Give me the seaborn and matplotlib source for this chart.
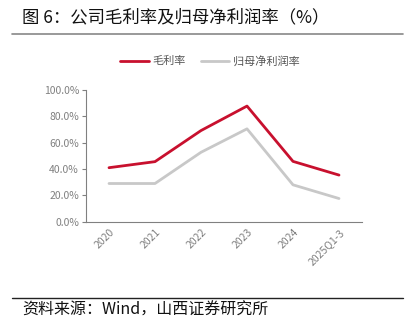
import matplotlib
matplotlib.use("Agg")
import matplotlib.pyplot as plt
import matplotlib.transforms as mtransforms
from matplotlib.lines import Line2D
import seaborn as sns
import pandas as pd

categories = ["2020", "2021", "2022", "2023", "2024", "2025Q1-3"]
gross_margin = [41.0, 45.6, 69.2, 87.8, 45.8, 35.4]
net_margin = [29.0, 29.0, 52.7, 70.5, 28.0, 17.6]
series_names = ["毛利率", "归母净利润率"]
y_ticks = [0, 20, 40, 60, 80, 100]

sns.set_style("white")
plt.rcParams['font.family'] = ['Noto Sans CJK SC', 'DejaVu Sans']

RED = "#C8102E"
GRAY = "#C8C8C8"
TICK = "#808080"

df = pd.DataFrame({
    "cat": categories * 2,
    "val": gross_margin + net_margin,
    "series": [series_names[0]] * len(categories) + [series_names[1]] * len(categories),
})

fig = plt.figure(figsize=(4.07, 3.23), dpi=100)
ax = fig.add_axes([86/407, 1 - 221.7/323, (362-86)/407, (221.7-90)/323])

sns.lineplot(data=df, x="cat", y="val", hue="series", palette=[RED, GRAY],
             linewidth=2, ax=ax, legend=False, sort=False)

ax.set_xlim(-0.5, len(categories) - 0.5)
ax.set_ylim(0, 100)
ax.set_yticks(y_ticks)
ax.set_yticklabels([f"{v:.1f}%" for v in y_ticks], color=TICK, fontsize=7.5)
ax.set_xticks(range(len(categories)))
ax.set_xticklabels(categories, rotation=45, ha="right", rotation_mode="anchor",
                   color=TICK, fontsize=7.5)
offset = mtransforms.ScaledTranslation(5/100, -3/100, fig.dpi_scale_trans)
for lbl in ax.get_xticklabels():
    lbl.set_transform(lbl.get_transform() + offset)
ax.tick_params(axis="x", which="major", length=0, pad=4)
ax.set_xticks([i - 0.5 for i in range(len(categories) + 1)], minor=True)
ax.tick_params(axis="x", which="minor", length=3, color=TICK, width=0.8, direction="out")
ax.tick_params(axis="y", length=3, color=TICK, width=0.8, direction="out", left=True, pad=2)
ax.set_xlabel("")
ax.set_ylabel("")
for s in ["top", "right"]:
    ax.spines[s].set_visible(False)
for s in ["left", "bottom"]:
    ax.spines[s].set_color(TICK)
    ax.spines[s].set_linewidth(0.8)

handles = [Line2D([], [], color=RED, lw=2), Line2D([], [], color=GRAY, lw=2)]
leg = fig.legend(handles, series_names, loc="center", bbox_to_anchor=(210/407, 1 - 61/323),
                 ncol=2, frameon=False, fontsize=8, handlelength=2.6, handletextpad=0.3,
                 columnspacing=1.3)
for t in leg.get_texts():
    t.set_color("#555555")

fig.text(22/407, 1 - 17/323, "图 6：公司毛利率及归母净利润率（%）", fontsize=12.5,
         va="center", ha="left", color="#111111")
fig.add_artist(Line2D([12/407, 403/407], [1 - 34/323, 1 - 34/323], color="#888888", lw=1.2))
fig.add_artist(Line2D([12/407, 403/407], [1 - 298/323, 1 - 298/323], color="#222222", lw=1.0))
fig.text(22/407, 1 - 310/323, "资料来源：Wind，山西证券研究所", fontsize=11.5,
         va="center", ha="left", color="#111111")

fig.savefig("out.png", dpi=100)
